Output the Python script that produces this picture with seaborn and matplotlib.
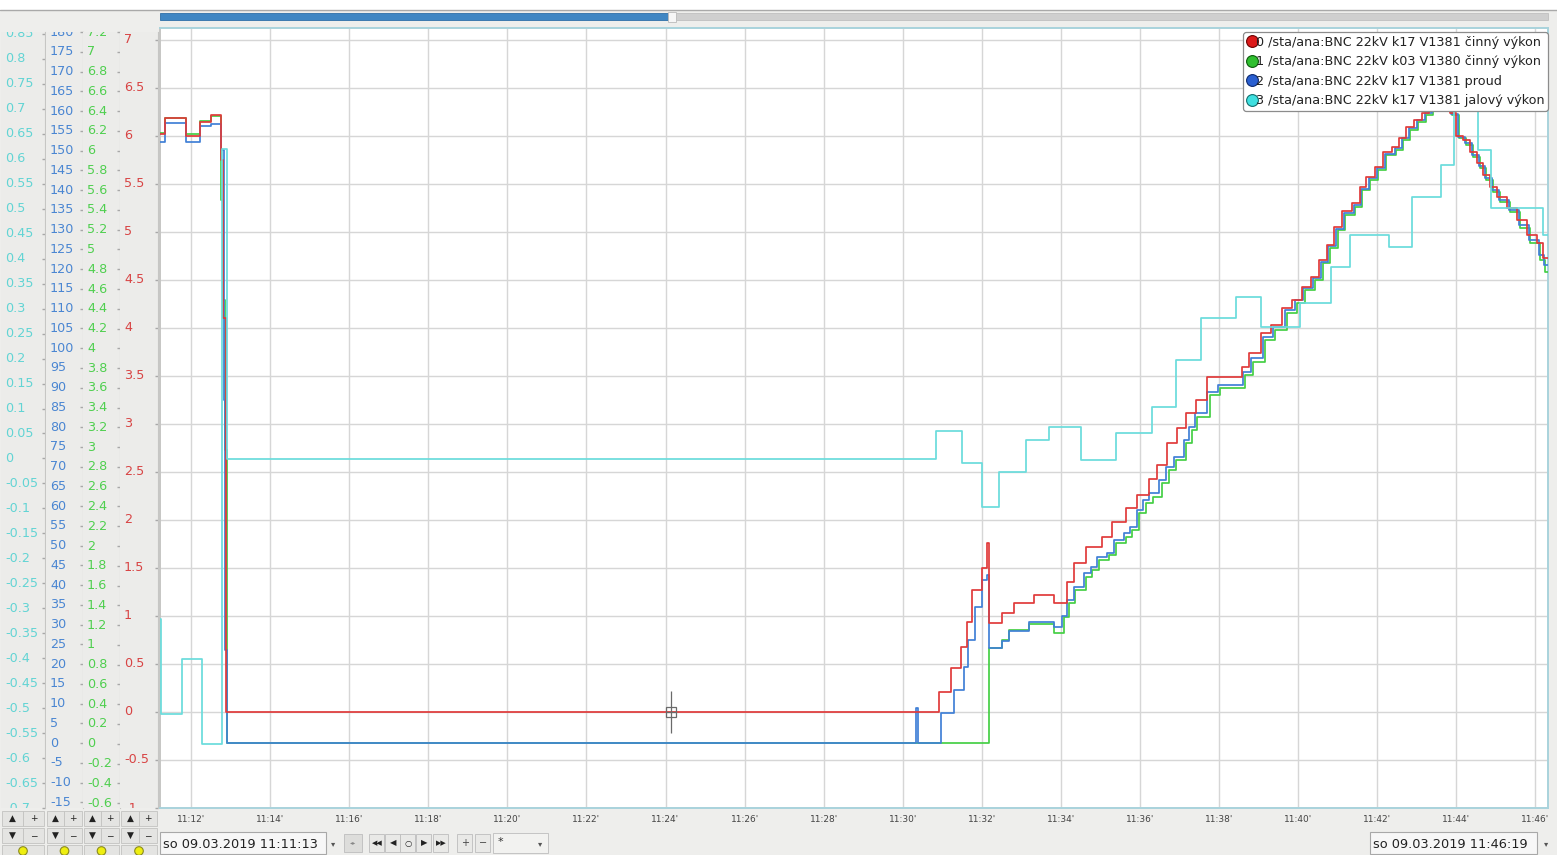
import matplotlib
matplotlib.use("Agg")
import numpy as np
import pandas as pd
import matplotlib.pyplot as plt
import matplotlib.dates as mdates
from matplotlib.lines import Line2D
from matplotlib.patches import Rectangle, Circle
import seaborn as sns

# ---------------- data ----------------
DAY = "2019-03-09"
START = "11:11:13"
END = "11:46:19"
CURSOR = "11:24:09"
DATE_PREFIX = "so 09.03.2019"

LABELS = [
    "0 /sta/ana:BNC 22kV k17 V1381 činný výkon",
    "1 /sta/ana:BNC 22kV k03 V1380 činný výkon",
    "2 /sta/ana:BNC 22kV k17 V1381 proud",
    "3 /sta/ana:BNC 22kV k17 V1381 jalový výkon",
]

# series 0 - k17 active power (red scale)
P17_T = ["11:11:13", "11:11:20", "11:11:52", "11:12:14", "11:12:30", "11:12:46", "11:12:49", "11:12:53",
         "11:30:55", "11:31:13", "11:31:28", "11:31:37", "11:31:45", "11:32:00", "11:32:08", "11:32:11",
         "11:32:30", "11:32:49", "11:33:19", "11:33:49", "11:34:09", "11:34:20", "11:34:38", "11:35:02",
         "11:35:18", "11:35:39", "11:35:56", "11:36:14", "11:36:26", "11:36:41", "11:36:56", "11:37:10",
         "11:37:25", "11:37:42", "11:38:34", "11:38:46", "11:39:04", "11:39:19", "11:39:36", "11:39:51",
         "11:40:05", "11:40:20", "11:40:32", "11:40:43", "11:40:55", "11:41:07", "11:41:22", "11:41:33",
         "11:41:43", "11:41:56", "11:42:08", "11:42:23", "11:42:33", "11:42:44", "11:42:56", "11:43:08",
         "11:43:19", "11:43:35", "11:43:50", "11:44:00", "11:44:10", "11:44:21", "11:44:31", "11:44:41",
         "11:44:51", "11:45:02", "11:45:17", "11:45:32", "11:45:47", "11:46:02", "11:46:12", "11:46:19"]
P17_V = [6.02, 6.18, 6.00, 6.14, 6.21, 5.75, 4.10, 0.00,
         0.21, 0.46, 0.68, 0.94, 1.27, 1.50, 1.76, 0.93,
         1.03, 1.13, 1.22, 1.13, 1.35, 1.55, 1.72, 1.82,
         1.98, 2.12, 2.26, 2.43, 2.57, 2.80, 2.96, 3.11,
         3.25, 3.49, 3.59, 3.74, 3.94, 4.03, 4.21, 4.29,
         4.42, 4.53, 4.70, 4.86, 5.05, 5.22, 5.30, 5.46,
         5.57, 5.67, 5.83, 5.88, 5.98, 6.09, 6.16, 6.23,
         6.33, 6.40, 6.24, 6.00, 5.95, 5.83, 5.71, 5.59,
         5.46, 5.36, 5.25, 5.12, 4.96, 4.88, 4.73, 4.73]

# series 1 - k03 active power (green scale)
P03_T = ["11:11:13", "11:11:20", "11:11:52", "11:12:14", "11:12:30", "11:12:46", "11:12:48", "11:12:51",
         "11:12:54", "11:32:11", "11:32:30", "11:32:41", "11:33:11", "11:33:49", "11:34:04", "11:34:12",
         "11:34:22", "11:34:38", "11:34:47", "11:34:58", "11:35:13", "11:35:23", "11:35:39", "11:35:48",
         "11:35:59", "11:36:09", "11:36:19", "11:36:34", "11:36:44", "11:36:55", "11:37:10", "11:37:19",
         "11:37:26", "11:37:46", "11:38:01", "11:38:39", "11:38:51", "11:39:09", "11:39:25", "11:39:43",
         "11:39:58", "11:40:10", "11:40:25", "11:40:37", "11:40:48", "11:41:00", "11:41:11", "11:41:26",
         "11:41:37", "11:41:49", "11:42:01", "11:42:13", "11:42:28", "11:42:39", "11:42:49", "11:43:02",
         "11:43:14", "11:43:25", "11:43:38", "11:43:53", "11:44:04", "11:44:15", "11:44:25", "11:44:36",
         "11:44:45", "11:44:56", "11:45:06", "11:45:22", "11:45:37", "11:45:52", "11:46:07", "11:46:15",
         "11:46:19"]
P03_V = [6.10, 6.25, 6.09, 6.22, 6.27, 5.43, 4.43, 2.93,
         0.00, 0.95, 1.03, 1.13, 1.19, 1.10, 1.26, 1.40,
         1.53, 1.66, 1.73, 1.83, 1.88, 2.00, 2.06, 2.13,
         2.30, 2.40, 2.46, 2.60, 2.73, 2.83, 3.00, 3.13,
         3.26, 3.48, 3.55, 3.68, 3.81, 4.03, 4.13, 4.30,
         4.40, 4.53, 4.63, 4.80, 4.95, 5.13, 5.28, 5.36,
         5.53, 5.63, 5.73, 5.88, 5.93, 6.03, 6.13, 6.21,
         6.28, 6.35, 6.39, 6.28, 6.05, 5.98, 5.86, 5.75,
         5.63, 5.51, 5.41, 5.31, 5.15, 5.00, 4.83, 4.71,
         4.71]

# series 2 - k17 current (blue scale)
I17_T = ["11:11:13", "11:11:20", "11:11:52", "11:12:14", "11:12:30", "11:12:46", "11:12:50", "11:12:52",
         "11:12:54", "11:30:20", "11:30:23", "11:30:58", "11:31:17", "11:31:33", "11:31:39", "11:31:50",
         "11:32:00", "11:32:08", "11:32:11", "11:32:30", "11:32:41", "11:33:11", "11:33:49", "11:34:01",
         "11:34:09", "11:34:20", "11:34:35", "11:34:46", "11:34:55", "11:35:10", "11:35:21", "11:35:36",
         "11:35:45", "11:35:55", "11:36:04", "11:36:14", "11:36:29", "11:36:40", "11:36:51", "11:37:06",
         "11:37:15", "11:37:24", "11:37:41", "11:37:58", "11:38:36", "11:38:48", "11:39:06", "11:39:22",
         "11:39:40", "11:39:55", "11:40:07", "11:40:22", "11:40:34", "11:40:45", "11:40:57", "11:41:09",
         "11:41:25", "11:41:35", "11:41:47", "11:42:00", "11:42:12", "11:42:27", "11:42:38", "11:42:48",
         "11:43:00", "11:43:12", "11:43:23", "11:43:37", "11:43:52", "11:44:03", "11:44:13", "11:44:24",
         "11:44:34", "11:44:44", "11:44:54", "11:45:05", "11:45:20", "11:45:35", "11:45:50", "11:46:06",
         "11:46:13", "11:46:19"]
I17_V = [151.8, 156.6, 151.8, 155.8, 156.3, 149.7, 86.6, 23.5,
         0.0, 8.8, 0.0, 7.6, 13.4, 19.2, 26.0, 34.3,
         41.2, 42.4, 24.0, 25.8, 28.3, 30.6, 29.3, 32.1,
         36.1, 39.4, 42.9, 44.4, 47.0, 48.0, 51.3, 53.0,
         54.5, 58.8, 61.4, 63.1, 66.4, 69.7, 72.2, 76.5,
         79.8, 83.3, 88.6, 90.4, 93.7, 97.2, 102.5, 105.1,
         109.3, 111.9, 114.9, 117.4, 121.5, 125.5, 129.8, 133.8,
         135.9, 139.9, 142.7, 145.2, 148.7, 150.3, 152.8, 155.3,
         157.3, 159.1, 160.9, 161.9, 158.8, 153.0, 151.5, 148.5,
         145.7, 142.7, 139.6, 137.1, 134.6, 130.8, 127.0, 123.2,
         120.7, 120.7]

# series 3 - k17 reactive power (cyan scale)
Q17_T = ["11:11:13", "11:11:15", "11:11:46", "11:12:17", "11:12:47", "11:12:55", "11:30:50", "11:31:30",
         "11:32:00", "11:32:26", "11:33:07", "11:33:42", "11:34:30", "11:35:24", "11:36:18", "11:36:55",
         "11:37:33", "11:38:26", "11:39:04", "11:40:02", "11:40:50", "11:41:18", "11:42:18", "11:42:52",
         "11:43:37", "11:43:57", "11:44:33", "11:44:53", "11:46:11", "11:46:19"]
Q17_V = [-0.32, -0.51, -0.40, -0.57, 0.62, 0.00, 0.056, -0.008,
         -0.096, -0.026, 0.038, 0.064, -0.002, 0.052, 0.104, 0.198,
         0.282, 0.324, 0.264, 0.312, 0.384, 0.448, 0.424, 0.524,
         0.588, 0.708, 0.618, 0.502, 0.448, 0.448]

# axis scales / ticks
RED_LIM = (-1.0, 7.12)
GREEN_LIM = (-0.65, 7.15)
BLUE_LIM = (-16.4, 180.6)
CYAN_LIM = (-0.698, 0.862)
RED_TICKS = np.arange(-1.0, 7.01, 0.5)
GREEN_TICKS = np.arange(-0.6, 7.21, 0.2)
BLUE_TICKS = np.arange(-15, 181, 5)
CYAN_TICKS = np.arange(-0.70, 0.851, 0.05)

# ---------------- style ----------------
RED = "#e03a3a"
GREEN = "#45cf45"
BLUE = "#4080d6"
CYAN = "#6adcdc"
RED_TXT = "#d84444"
GREEN_TXT = "#4fcf4f"
BLUE_TXT = "#4a86d2"
CYAN_TXT = "#62d4d4"
BG = "#eeeeec"
COL_BG = "#ececea"
GRID = "#d6d6d6"

sns.set_style("white")
plt.rcParams["font.family"] = ["DejaVu Sans"]

W, H, DPI = 1557, 855, 100
PLOT = (160, 28, 1548, 808)


def px_rect(l, t, r, b):
    return [l / W, 1 - b / H, (r - l) / W, (b - t) / H]


def frame(times, values):
    return pd.DataFrame({"time": pd.to_datetime([f"{DAY} {t}" for t in times]),
                         "value": values})


def fmt(v):
    s = f"{round(float(v), 2):g}"
    return "0" if s == "-0" else s


fig = plt.figure(figsize=(W / DPI, H / DPI), dpi=DPI, facecolor=BG)

# UI background layer in pixel coordinates
ui = fig.add_axes([0, 0, 1, 1], zorder=0)
ui.set_xlim(0, W)
ui.set_ylim(H, 0)
ui.axis("off")
ui.add_patch(Rectangle((0, 0), W, 10, fc="white", ec="none"))
ui.plot([0, W], [10, 10], color="#a9a9a9", lw=1)
ui.add_patch(Rectangle((160, 13.5), 508, 7, fc="#3f86c3", ec="#2f6fa8", lw=0.6))
ui.add_patch(Rectangle((676, 13.5), 872, 7, fc="#cfcfcf", ec="#c0c0c0", lw=0.6))
ui.add_patch(Rectangle((668, 12), 8, 10, fc="#f6f6f6", ec="#bbbbbb", lw=0.6))

# left button rows below the scale columns
COL_BOUNDS = [(1, 45), (46, 83), (83, 120), (120, 158)]
for (L, R) in COL_BOUNDS:
    mid = (L + R) / 2
    for row, (a, b) in enumerate([("▲", "+"), ("▼", "−")]):
        y0 = 811 + row * 17
        for (x0, x1, s) in [(L + 1, mid, a), (mid, R - 1, b)]:
            ui.add_patch(Rectangle((x0, y0), x1 - x0, 15, fc="#e4e4e2", ec="#c2c2c0", lw=0.6))
            ui.text((x0 + x1) / 2, y0 + 7.8, s, ha="center", va="center",
                    fontsize=6.5, color="#222222")
    ui.add_patch(Rectangle((L + 1, 845), R - L - 2, 12, fc="#e4e4e2", ec="#c2c2c0", lw=0.6))
    ui.add_patch(Circle((mid, 851), 4.3, fc="#eeee10", ec="#8a8a20", lw=0.8))

# bottom bar
ui.add_patch(Rectangle((160, 832), 166, 22, fc="#f7f7f7", ec="#a8a8a8", lw=0.8))
ui.text(163, 844, f"{DATE_PREFIX} {START}", ha="left", va="center", fontsize=9.3, color="#222222")
ui.text(333, 844, "▾", ha="center", va="center", fontsize=6, color="#555555")
ui.add_patch(Rectangle((344, 834), 18, 18, fc="#dddddb", ec="#bdbdbd", lw=0.6))
ui.text(353, 843, "◂▸", ha="center", va="center", fontsize=4.5, color="#888888")
for cx, s in [(377, "◀◀"), (393, "◀"), (408, "○"), (424, "▶"), (441, "▶▶")]:
    ui.add_patch(Rectangle((cx - 7.5, 834), 15, 18, fc="#e9e9e7", ec="#bdbdbd", lw=0.6))
    ui.text(cx, 843, s, ha="center", va="center", fontsize=5 if len(s) > 1 else 6, color="#222222")
for cx, s in [(465, "+"), (483, "−")]:
    ui.add_patch(Rectangle((cx - 7.5, 834), 15, 18, fc="#e9e9e7", ec="#bdbdbd", lw=0.6))
    ui.text(cx, 843, s, ha="center", va="center", fontsize=7, color="#444444")
ui.add_patch(Rectangle((493, 833), 55, 20, fc="#f2f2f0", ec="#bdbdbd", lw=0.6))
ui.text(500, 842, "*", ha="center", va="center", fontsize=8, color="#333333")
ui.text(540, 844, "▾", ha="center", va="center", fontsize=6, color="#555555")
ui.add_patch(Rectangle((1370, 832), 167, 22, fc="#f7f7f7", ec="#a8a8a8", lw=0.8))
ui.text(1373, 844, f"{DATE_PREFIX} {END}", ha="left", va="center", fontsize=9.3, color="#222222")
ui.text(1546, 844, "▾", ha="center", va="center", fontsize=6, color="#555555")

# scale columns
COLS = [
    (COL_BOUNDS[0], CYAN_LIM, CYAN_TICKS, CYAN_TXT),
    (COL_BOUNDS[1], BLUE_LIM, BLUE_TICKS, BLUE_TXT),
    (COL_BOUNDS[2], GREEN_LIM, GREEN_TICKS, GREEN_TXT),
    (COL_BOUNDS[3], RED_LIM, RED_TICKS, RED_TXT),
]
for (L, R), lim, ticks, color in COLS:
    cax = fig.add_axes(px_rect(L, PLOT[1] + 4, R, PLOT[3]), zorder=1)
    cax.set_facecolor(COL_BG)
    cax.set_xlim(0, 1)
    cax.set_ylim(lim[0], lim[0] + (lim[1] - lim[0]) * (PLOT[3] - PLOT[1] - 4) / (PLOT[3] - PLOT[1]))
    cax.set_xticks([])
    cax.yaxis.tick_right()
    cax.set_yticks(ticks)
    cax.tick_params(axis="y", direction="in", length=2.5, width=1, color="#a8a8a8",
                    labelright=False, labelleft=False)
    for side in ["top", "left", "bottom"]:
        cax.spines[side].set_visible(False)
    cax.spines["right"].set_color("#c6c6c4")
    for v in ticks:
        t = cax.text(4.0 / (R - L), v, fmt(v), transform=cax.get_yaxis_transform(),
                     ha="left", va="center", fontsize=9.2, color=color, clip_on=True)
        t.set_clip_box(cax.bbox)

# main plot area
ax = fig.add_axes(px_rect(*PLOT), zorder=2)
ax.set_facecolor("white")
ax_g = ax.twinx()
ax_b = ax.twinx()
ax_r = ax.twinx()
ax_c = ax.twinx()
for z, tw in enumerate([ax_g, ax_b, ax_r, ax_c]):
    tw.set_zorder(3 + z)

series = [
    (ax_g, frame(P03_T, P03_V), GREEN),
    (ax_b, frame(I17_T, I17_V), BLUE),
    (ax_r, frame(P17_T, P17_V), RED),
    (ax_c, frame(Q17_T, Q17_V), CYAN),
]
for tw, df, col in series:
    sns.lineplot(data=df, x="time", y="value", ax=tw, color=col, lw=1.25,
                 drawstyle="steps-post", estimator=None, sort=False, legend=False)

for tw, lim in [(ax_g, GREEN_LIM), (ax_b, BLUE_LIM), (ax_r, RED_LIM), (ax_c, CYAN_LIM)]:
    tw.set_ylim(lim)
    tw.set_yticks([])
    tw.set_ylabel("")
    tw.set_xlabel("")
    for sp in tw.spines.values():
        sp.set_visible(False)

t0 = pd.to_datetime(f"{DAY} {START}")
t1 = pd.to_datetime(f"{DAY} {END}")
ax.set_xlim(t0, t1)
ax.set_ylim(RED_LIM)
ax.set_yticks(RED_TICKS)
ax.tick_params(axis="y", length=0, labelleft=False, labelright=False)
ax.xaxis.set_major_locator(mdates.MinuteLocator(byminute=range(0, 60, 2)))
ax.xaxis.set_major_formatter(mdates.DateFormatter("%H:%M'"))
ax.tick_params(axis="x", length=0, pad=5, labelsize=6.5, labelcolor="#444444")
ax.grid(True, color=GRID, lw=1.0)
ax.set_axisbelow(True)
ax.set_xlabel("")
ax.set_ylabel("")
for side, sp in ax.spines.items():
    sp.set_color("#a9d3dc")
    sp.set_linewidth(1.4)
ax.spines["left"].set_color("#c6c6c4")

# cursor cross
ct = pd.to_datetime(f"{DAY} {CURSOR}").to_pydatetime()
ax_r.plot([ct], [0], marker="|", ms=30, mec="#6a6a6a", mew=0.9, ls="none")
ax_r.plot([ct], [0], marker="s", ms=6.5, mfc="none", mec="#6a6a6a", mew=0.9, ls="none")
ax_r.plot([ct], [0], marker="_", ms=6.5, mec="#6a6a6a", mew=0.9, ls="none")

# legend
SPHERES = [("#dd1a1a", "#6a0000"), ("#2fbf2f", "#0b5a0b"), ("#2a5fd0", "#0d2a70"), ("#3fe0e0", "#127070")]
handles = [Line2D([], [], ls="none", marker="o", ms=8.5, mfc=c, mec=e, mew=0.8) for c, e in SPHERES]
leg = ax_c.legend(handles, LABELS, loc="upper right", bbox_to_anchor=(1.0, 1 - 4.0 / 780),
                  borderaxespad=0, fontsize=9.2, frameon=True, fancybox=True, framealpha=1,
                  facecolor="white", edgecolor="#8c8c8c", borderpad=0.3, labelspacing=0.5,
                  handlelength=0.8, handletextpad=-0.15)
leg.get_frame().set_linewidth(0.9)
for txt in leg.get_texts():
    txt.set_color("#222222")

fig.savefig("out.png", dpi=DPI, facecolor=BG)
